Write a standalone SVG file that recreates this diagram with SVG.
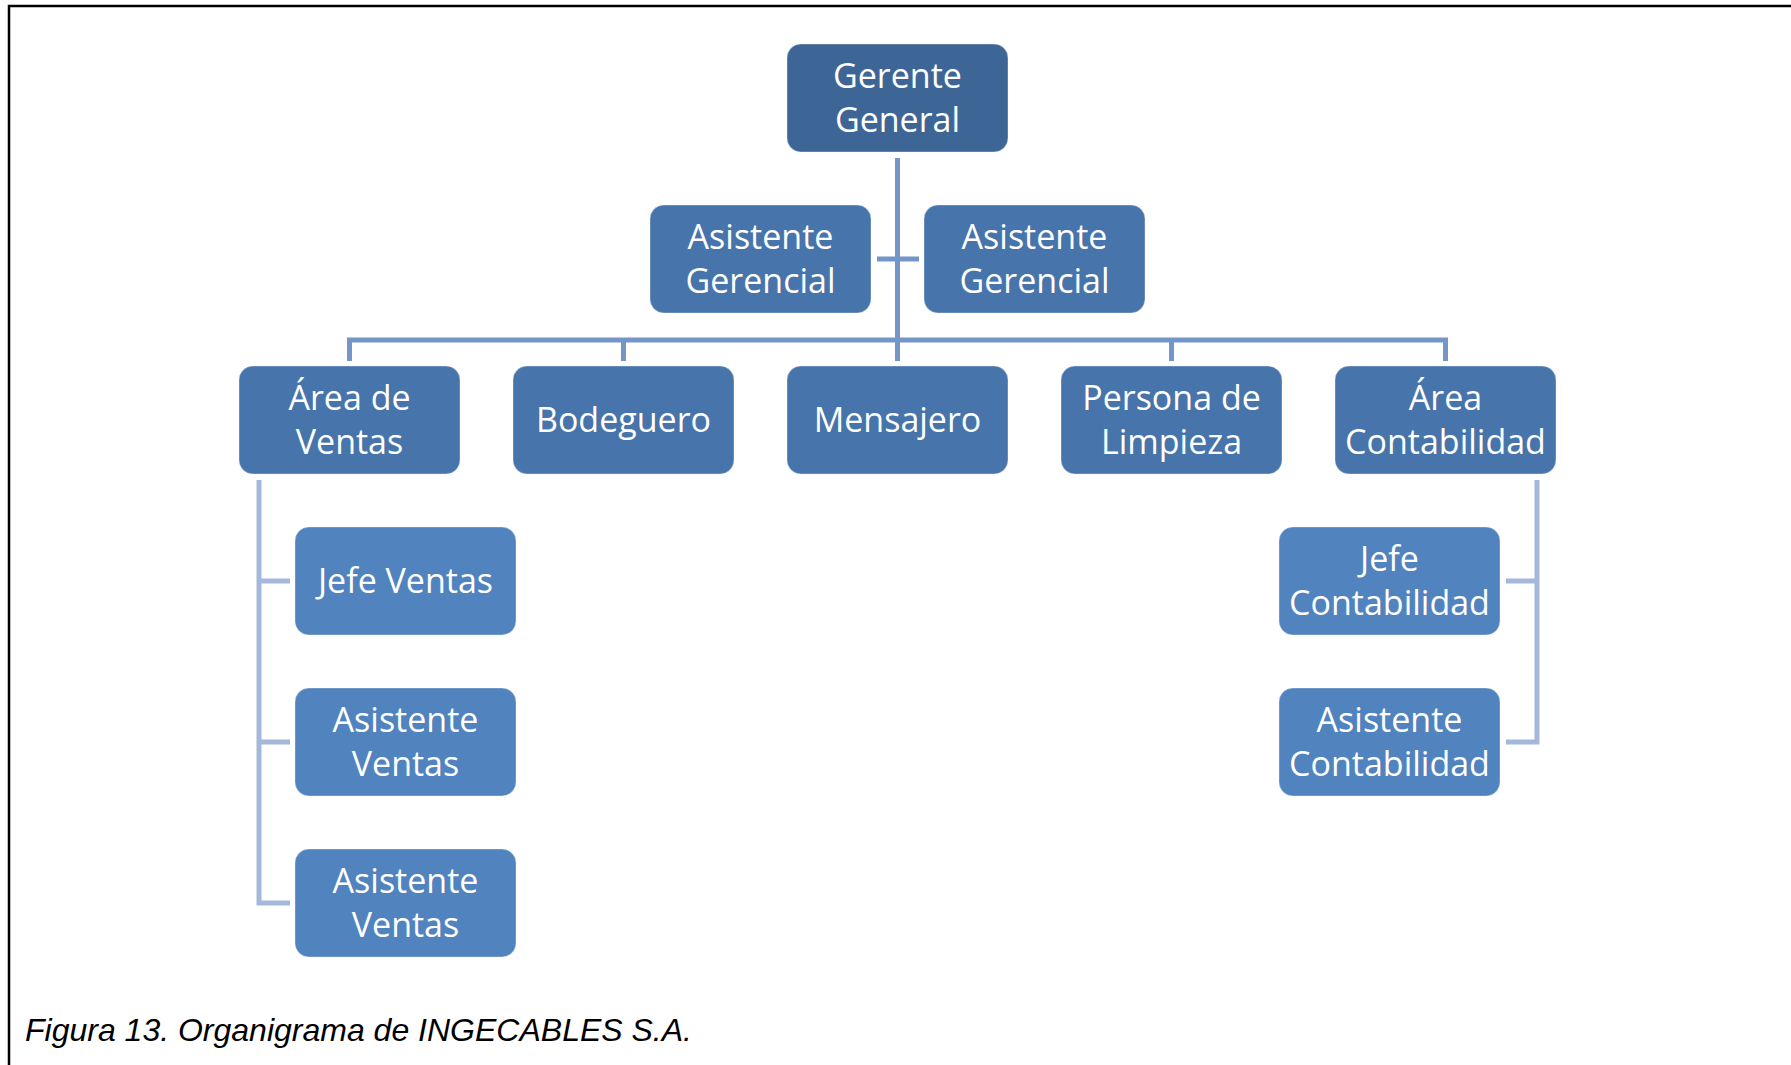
<svg xmlns="http://www.w3.org/2000/svg" width="1791" height="1065" viewBox="0 0 1791 1065">
<style>
.box{stroke:#ffffff;stroke-opacity:0.35;stroke-width:1}
.l0{fill:#3D6697}
.l1{fill:#4774AA}
.l3{fill:#5183BE}
.t{font-family:"Open Sans","Noto Sans",sans-serif;font-size:34px;fill:#ffffff;text-anchor:middle}
.main{stroke:#7395CA;stroke-width:5;fill:none}
.sub{stroke:#A3B8DA;stroke-width:5;fill:none}
.cap{font-family:"Liberation Sans",Arial,sans-serif;font-style:italic;font-size:32px;fill:#000000}
</style>
<rect x="0" y="0" width="1791" height="1065" fill="#ffffff"/>
<path d="M9 1065 V6 H1791" fill="none" stroke="#000000" stroke-width="2.5"/>
<g id="connectors">
<path class="main" d="M897.5 158 V361"/>
<path class="main" d="M877 259 H919"/>
<path class="main" d="M347 340 H1448"/>
<path class="main" d="M349.5 340 V361 M623.5 340 V361 M1171.5 340 V361 M1445.5 340 V361"/>
<path class="sub" d="M259 480 V905.5 M259 581 H290 M259 742 H290 M259 903 H290"/>
<path class="sub" d="M1537 480 V744.5 M1537 581 H1506 M1537 742 H1506"/>
</g>
<g id="gerente-general">
<rect class="box l0" x="787" y="44" width="221" height="108" rx="14"/>
<text class="t" x="897.5" y="88">Gerente</text>
<text class="t" x="897.5" y="132">General</text>
</g>
<g id="asistente-gerencial-1">
<rect class="box l1" x="650" y="205" width="221" height="108" rx="14"/>
<text class="t" x="760.5" y="249">Asistente</text>
<text class="t" x="760.5" y="293">Gerencial</text>
</g>
<g id="asistente-gerencial-2">
<rect class="box l1" x="924" y="205" width="221" height="108" rx="14"/>
<text class="t" x="1034.5" y="249">Asistente</text>
<text class="t" x="1034.5" y="293">Gerencial</text>
</g>
<g id="area-ventas">
<rect class="box l1" x="239" y="366" width="221" height="108" rx="14"/>
<text class="t" x="349.5" y="410">Área de</text>
<text class="t" x="349.5" y="454">Ventas</text>
</g>
<g id="bodeguero">
<rect class="box l1" x="513" y="366" width="221" height="108" rx="14"/>
<text class="t" x="623.5" y="432">Bodeguero</text>
</g>
<g id="mensajero">
<rect class="box l1" x="787" y="366" width="221" height="108" rx="14"/>
<text class="t" x="897.5" y="432">Mensajero</text>
</g>
<g id="persona-limpieza">
<rect class="box l1" x="1061" y="366" width="221" height="108" rx="14"/>
<text class="t" x="1171.5" y="410">Persona de</text>
<text class="t" x="1171.5" y="454">Limpieza</text>
</g>
<g id="area-contabilidad">
<rect class="box l1" x="1335" y="366" width="221" height="108" rx="14"/>
<text class="t" x="1445.5" y="410">Área</text>
<text class="t" x="1445.5" y="454">Contabilidad</text>
</g>
<g id="jefe-ventas">
<rect class="box l3" x="295" y="527" width="221" height="108" rx="14"/>
<text class="t" x="405.5" y="593">Jefe Ventas</text>
</g>
<g id="asistente-ventas-1">
<rect class="box l3" x="295" y="688" width="221" height="108" rx="14"/>
<text class="t" x="405.5" y="732">Asistente</text>
<text class="t" x="405.5" y="776">Ventas</text>
</g>
<g id="asistente-ventas-2">
<rect class="box l3" x="295" y="849" width="221" height="108" rx="14"/>
<text class="t" x="405.5" y="893">Asistente</text>
<text class="t" x="405.5" y="937">Ventas</text>
</g>
<g id="jefe-contabilidad">
<rect class="box l3" x="1279" y="527" width="221" height="108" rx="14"/>
<text class="t" x="1389.5" y="571">Jefe</text>
<text class="t" x="1389.5" y="615">Contabilidad</text>
</g>
<g id="asistente-contabilidad">
<rect class="box l3" x="1279" y="688" width="221" height="108" rx="14"/>
<text class="t" x="1389.5" y="732">Asistente</text>
<text class="t" x="1389.5" y="776">Contabilidad</text>
</g>
<text class="cap" x="25" y="1041">Figura 13. Organigrama de INGECABLES S.A.</text>
</svg>
